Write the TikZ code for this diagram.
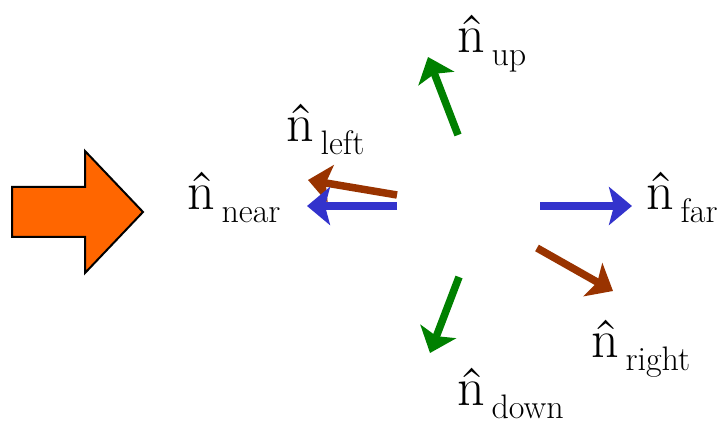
\documentclass[tikz,border=0pt]{standalone}
\usetikzlibrary{arrows.meta}
\definecolor{vblue}{HTML}{3333CC}
\definecolor{vbrown}{HTML}{993300}
\definecolor{vgreen}{HTML}{008000}
\definecolor{vorange}{HTML}{FF6600}
\newcommand{\nlabel}[1]{{\fontsize{54}{54}\selectfont\^{n}}\hspace{7pt}\raisebox{-13pt}[\height][0pt]{\fontsize{34}{34}\selectfont #1}}
\tikzset{
  vec/.style={line width=7.5pt, -{Stealth[length=23pt,width=38pt,inset=5pt]}},
  lbl/.style={anchor=base west, inner sep=0pt, outer sep=0pt}
}
\begin{document}
\begin{tikzpicture}[x=1pt,y=-1pt]
\useasboundingbox (0,0) rectangle (718,422);
% big orange arrow
\draw[fill=vorange, line width=2pt, line join=miter] (12,187) -- (85,187) -- (85,151) -- (143,212) -- (85,273) -- (85,237) -- (12,237) -- cycle;
% coordinates
\coordinate (lt) at (397,195);
\coordinate (lh) at (308,180);
\coordinate (nt) at (397,206);
\coordinate (nh) at (307,206);
\coordinate (ut) at (458,135);
\coordinate (uh) at (428,57);
\coordinate (ft) at (540,206);
\coordinate (fh) at (632,206);
\coordinate (rt) at (537,248);
\coordinate (rh) at (613,291);
\coordinate (dt) at (459,277);
\coordinate (dh) at (430,353);
% arrows
\draw[vec, vbrown] (lt) -- (lh);
\draw[vec, vblue] (nt) -- (nh);
\draw[vec, vgreen] (ut) -- (uh);
\draw[vec, vblue] (ft) -- (fh);
\draw[vec, vbrown] (rt) -- (rh);
\draw[vec, vgreen] (dt) -- (dh);
% labels
\node[lbl] (near) at (187,210) {\nlabel{near}};
\node[lbl] (left) at (286,142) {\nlabel{left}};
\node[lbl] (up) at (457,53) {\nlabel{up}};
\node[lbl] (far) at (646,210) {\nlabel{far}};
\node[lbl] (right) at (591,357) {\nlabel{right}};
\node[lbl] (down) at (457,405) {\nlabel{down}};
\end{tikzpicture}
\end{document}
